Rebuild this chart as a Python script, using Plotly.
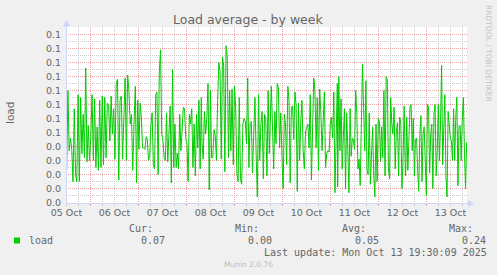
import numpy as np
import pandas as pd
import plotly.graph_objects as go

# ---------------- data ----------------
base_time = pd.Timestamp("2025-10-05 11:45")
range_end = pd.Timestamp("2025-10-13 20:15")

# hours after base_time covered by each block of samples
seg_hours = [(0.33, 34.0), (34.67, 67.67), (68.0, 101.67),
             (102.67, 135.67), (135.83, 169.67), (169.83, 200.33)]

load_1 = [0.023, 0.080, 0.037, 0.046, 0.038, 0.015, 0.067, 0.020, 0.015, 0.077,
          0.015, 0.075, 0.035, 0.063, 0.032, 0.096, 0.029, 0.055, 0.030, 0.047,
          0.077, 0.030, 0.074, 0.025, 0.054, 0.023, 0.073, 0.025, 0.076, 0.027,
          0.075, 0.032, 0.071, 0.070, 0.044, 0.076, 0.049, 0.067, 0.031, 0.085,
          0.088, 0.016, 0.073, 0.076, 0.031, 0.070, 0.089, 0.030, 0.091, 0.080,
          0.056, 0.063, 0.023, 0.056]
load_2 = [0.083, 0.014, 0.073, 0.038, 0.071, 0.061, 0.039, 0.039, 0.038, 0.047,
          0.045, 0.030, 0.033, 0.056, 0.064, 0.027, 0.024, 0.077, 0.079, 0.020,
          0.094, 0.109, 0.049, 0.044, 0.032, 0.030, 0.064, 0.029, 0.051, 0.069,
          0.014, 0.095, 0.025, 0.056, 0.025, 0.035, 0.024, 0.063, 0.037, 0.049,
          0.068, 0.067, 0.046, 0.042, 0.015, 0.063, 0.056, 0.067, 0.025, 0.056,
          0.019, 0.063, 0.039, 0.073, 0.024, 0.075]
load_3 = [0.042, 0.031, 0.065, 0.049, 0.060, 0.085, 0.009, 0.080, 0.032, 0.032,
          0.052, 0.048, 0.030, 0.073, 0.100, 0.094, 0.031, 0.104, 0.098, 0.022,
          0.112, 0.104, 0.032, 0.080, 0.037, 0.081, 0.027, 0.083, 0.068, 0.021,
          0.015, 0.075, 0.017, 0.013, 0.056, 0.060, 0.058, 0.042, 0.089, 0.025,
          0.057, 0.058, 0.021, 0.049, 0.075, 0.035, 0.004, 0.077, 0.030, 0.056,
          0.065, 0.017, 0.063, 0.060, 0.019, 0.080, 0.035]
load_4 = [0.083, 0.049, 0.024, 0.065, 0.042, 0.085, 0.082, 0.039, 0.064, 0.033,
          0.010, 0.063, 0.056, 0.027, 0.083, 0.073, 0.014, 0.068, 0.069, 0.045,
          0.079, 0.070, 0.008, 0.071, 0.030, 0.058, 0.073, 0.037, 0.024, 0.051,
          0.054, 0.056, 0.039, 0.077, 0.016, 0.056, 0.089, 0.080, 0.039, 0.075,
          0.023, 0.081, 0.065, 0.037, 0.056, 0.079, 0.025, 0.035, 0.037, 0.036,
          0.056, 0.061, 0.046, 0.079, 0.007, 0.061, 0.085]
load_5 = [0.011, 0.090, 0.037, 0.074, 0.024, 0.056, 0.067, 0.010, 0.064, 0.038,
          0.007, 0.067, 0.033, 0.046, 0.045, 0.038, 0.080, 0.063, 0.024, 0.031,
          0.012, 0.056, 0.099, 0.068, 0.037, 0.087, 0.023, 0.020, 0.064, 0.013,
          0.032, 0.054, 0.019, 0.004, 0.056, 0.015, 0.060, 0.058, 0.029, 0.054,
          0.032, 0.080, 0.019, 0.090, 0.088, 0.024, 0.017, 0.075, 0.056, 0.049,
          0.068, 0.024, 0.050, 0.057, 0.019, 0.061, 0.056, 0.010, 0.032, 0.069,
          0.020]
load_6 = [0.019, 0.061, 0.023, 0.045, 0.069, 0.070, 0.037, 0.060, 0.019, 0.045,
          0.046, 0.023, 0.008, 0.049, 0.062, 0.015, 0.049, 0.054, 0.025, 0.005,
          0.070, 0.068, 0.021, 0.049, 0.056, 0.010, 0.063, 0.070, 0.019, 0.037,
          0.070, 0.030, 0.056, 0.098, 0.027, 0.051, 0.077, 0.018, 0.004, 0.065,
          0.056, 0.046, 0.044, 0.030, 0.067, 0.030, 0.061, 0.075, 0.012, 0.054,
          0.055, 0.030, 0.061, 0.075, 0.035, 0.010, 0.043]
load_blocks = [load_1, load_2, load_3, load_4, load_5, load_6]

day_labels = ["05 Oct", "06 Oct", "07 Oct", "08 Oct", "09 Oct",
              "10 Oct", "11 Oct", "12 Oct", "13 Oct"]
y_tick_vals = [0.00, 0.01, 0.02, 0.03, 0.04, 0.05, 0.06,
               0.07, 0.08, 0.09, 0.10, 0.11, 0.12]
y_tick_text = ["0.0", "0.0", "0.0", "0.0", "0.0", "0.1", "0.1",
               "0.1", "0.1", "0.1", "0.1", "0.1", "0.1"]
y_minor_vals = [0.005, 0.015, 0.025, 0.035, 0.045, 0.055, 0.065,
                0.075, 0.085, 0.095, 0.105, 0.115, 0.125]
y_range = [-0.5 / 1400, 175.5 / 1400]

series_name = "load"
stat_cur, stat_min, stat_avg, stat_max = "0.07", "0.00", "0.05", "0.24"
last_update = "Last update: Mon Oct 13 19:30:09 2025"

# ---------------- build ----------------
times, values = [], []
for (h0, h1), block in zip(seg_hours, load_blocks):
    hrs = np.linspace(h0, h1, len(block))
    times.extend(base_time + pd.to_timedelta(hrs, unit="h"))
    values.extend(block)

label_times = [pd.Timestamp("2025-10-05 12:00") + pd.Timedelta(days=i) for i in range(len(day_labels))]
midnights = [pd.Timestamp("2025-10-06") + pd.Timedelta(days=i) for i in range(8)]
six_hours = [t for t in pd.date_range("2025-10-05 12:00", "2025-10-13 18:00", freq="6h") if t.hour != 0]

W, H = 497, 275
L, R, T, B = 66, 467, 27, 203
PW, PH = R - L, B - T

def fx(px):
    return (px - L) / PW

def fy(py):
    return (B - py) / PH

FONT = "DejaVu Sans"
MONO = "DejaVu Sans Mono"
TXT = "#666666"
AXIS = "#CFD6F8"
MGRID = "#EBA2A2"
GRID = "#CDCDCD"
DASH = "1px,1px"

fig = go.Figure()
fig.add_trace(go.Scatter(x=times, y=values, mode="lines",
                         line=dict(color="#00CC00", width=1),
                         hoverinfo="skip", showlegend=False))
# helper trace for the label axis
fig.add_trace(go.Scatter(x=label_times, y=[None] * len(label_times), xaxis="x2",
                         mode="lines", hoverinfo="skip", showlegend=False))

fig.update_layout(
    width=W, height=H,
    margin=dict(l=L, r=W - R, t=T, b=H - B, pad=0),
    paper_bgcolor="#F0F0F0", plot_bgcolor="#FFFFFF",
    showlegend=False,
    xaxis=dict(type="date", range=[base_time, range_end],
               tickmode="array", tickvals=midnights, showticklabels=False,
               showgrid=True, gridcolor=MGRID, gridwidth=1, griddash=DASH,
               ticks="outside", ticklen=2, tickcolor=MGRID,
               showline=False, zeroline=False,
               minor=dict(tickmode="array", tickvals=six_hours, showgrid=True,
                          gridcolor=GRID, gridwidth=1, griddash=DASH,
                          ticks="outside", ticklen=2, tickcolor=GRID)),
    xaxis2=dict(type="date", range=[base_time, range_end], overlaying="x", anchor="y",
                side="bottom", tickmode="array", tickvals=label_times, ticktext=day_labels,
                showgrid=False, showline=False, zeroline=False, ticks="",
                ticklabelstandoff=2,
                tickfont=dict(family=FONT, size=9.5, color=TXT)),
    yaxis=dict(range=y_range, tickmode="array", tickvals=y_tick_vals, ticktext=y_tick_text,
               showgrid=True, gridcolor=MGRID, gridwidth=1, griddash=DASH,
               zeroline=False, showline=False, ticks="", ticklabelstandoff=4,
               tickfont=dict(family=FONT, size=9.5, color=TXT),
               minor=dict(tickmode="array", tickvals=y_minor_vals, showgrid=True,
                          gridcolor=GRID, gridwidth=1, griddash=DASH)),
)

shapes = [
    dict(type="line", xref="paper", yref="paper", x0=fx(66.5), y0=fy(203.5), x1=fx(66.5), y1=fy(25),
         line=dict(color=AXIS, width=1)),
    dict(type="line", xref="paper", yref="paper", x0=fx(66), y0=fy(203.5), x1=fx(470), y1=fy(203.5),
         line=dict(color=AXIS, width=1)),
    dict(type="path", xref="paper", yref="paper",
         path=f"M {fx(66.5)} {fy(20)} L {fx(63.5)} {fy(26)} L {fx(69.5)} {fy(26)} Z",
         fillcolor=AXIS, line=dict(color=AXIS, width=0.5)),
    dict(type="path", xref="paper", yref="paper",
         path=f"M {fx(474)} {fy(203.5)} L {fx(468)} {fy(200.5)} L {fx(468)} {fy(206.5)} Z",
         fillcolor=AXIS, line=dict(color=AXIS, width=0.5)),
    dict(type="rect", xref="paper", yref="paper", x0=fx(14), y0=fy(243.5), x1=fx(20), y1=fy(237.5),
         fillcolor="#00CC00", line=dict(width=0)),
]
fig.update_layout(shapes=shapes)

def ann(text, x, y, size, family=FONT, color=TXT, xanchor="left", angle=0):
    fig.add_annotation(text=text, x=fx(x), y=fy(y), xref="paper", yref="paper",
                       showarrow=False, xanchor=xanchor, yanchor="middle", textangle=angle,
                       font=dict(family=family, size=size, color=color))

ann("Load average - by week", 248, 19.5, 12.5, xanchor="center")
ann("load", 10, 113, 10.5, xanchor="center", angle=-90)
ann("RRDTOOL / TOBI OETIKER", 488.5, 53.5, 7.5, color="#C4C4C4", xanchor="center", angle=90)

ann("Cur:", 127, 228, 10, family=MONO)
ann("Min:", 233, 228, 10, family=MONO)
ann("Avg:", 340, 228, 10, family=MONO)
ann("Max:", 447, 228, 10, family=MONO)
ann(series_name, 27, 240, 10, family=MONO)
ann(stat_cur, 139, 240, 10, family=MONO)
ann(stat_min, 246, 240, 10, family=MONO)
ann(stat_avg, 352.5, 240, 10, family=MONO)
ann(stat_max, 459.5, 240, 10, family=MONO)
ann(last_update, 262, 252, 10, family=MONO)
ann("Munin 2.0.76", 248, 264, 7.5, color="#BBBBBB", xanchor="center")

fig.write_html("out.html")
